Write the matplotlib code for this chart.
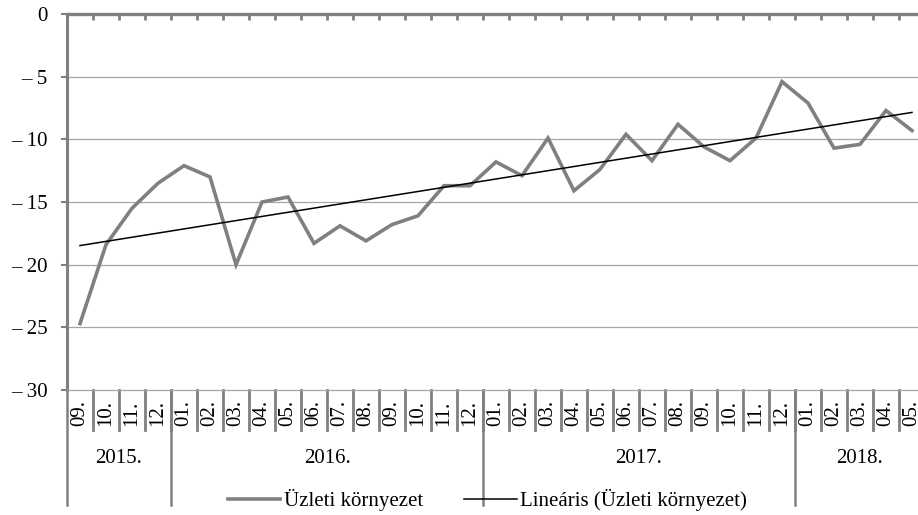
import matplotlib
matplotlib.use("Agg")
import matplotlib.pyplot as plt
import matplotlib.transforms as mtrans
import numpy as np

plt.rcParams["font.family"] = ["Liberation Serif", "DejaVu Serif"]

years = ["2015.", "2016.", "2017.", "2018."]
year_months = [4, 12, 12, 5]
months = ["09.", "10.", "11.", "12.",
          "01.", "02.", "03.", "04.", "05.", "06.", "07.", "08.", "09.", "10.", "11.", "12.",
          "01.", "02.", "03.", "04.", "05.", "06.", "07.", "08.", "09.", "10.", "11.", "12.",
          "01.", "02.", "03.", "04.", "05."]
values = [-24.7, -18.4, -15.5, -13.5,
          -12.1, -13.0, -20.0, -15.0, -14.6, -18.3, -16.9, -18.1, -16.8, -16.1, -13.7, -13.7,
          -11.8, -12.9, -9.9, -14.1, -12.4, -9.6, -11.7, -8.8, -10.6, -11.7, -9.9, -5.4,
          -7.1, -10.7, -10.4, -7.7, -9.3]
yticks = [0, -5, -10, -15, -20, -25, -30]
ytick_labels = ["0", "\u2013 5", "\u2013 10", "\u2013 15", "\u2013 20", "\u2013 25", "\u2013 30"]

GRAY = "#808080"
GRID = "#a6a6a6"
FS = 15

n = len(values)
x = np.arange(n) + 0.5
slope, icpt = np.polyfit(np.arange(n), values, 1)
trend = icpt + slope * np.arange(n)

fig = plt.figure(figsize=(9.18, 5.15), dpi=100)
ax = fig.add_axes([0.073, 0.2427, 1.0076 - 0.073, 0.9728 - 0.2427])

ax.set_ylim(-30, 0)
ax.set_xlim(0, n)
for v in yticks[1:-1]:
    ax.axhline(v, color=GRID, lw=0.9, zorder=1)

line1, = ax.plot(x, values, color=GRAY, lw=2.6, solid_joinstyle="miter", zorder=3,
                 label="Üzleti környezet")
line2, = ax.plot(x, trend, color="black", lw=1.1, zorder=4,
                 label="Lineáris (Üzleti környezet)")

ax.spines["right"].set_visible(False)
ax.spines["left"].set_color(GRAY)
ax.spines["left"].set_linewidth(2.2)
ax.spines["top"].set_color(GRAY)
ax.spines["top"].set_linewidth(2.4)
ax.spines["bottom"].set_color(GRID)
ax.spines["bottom"].set_linewidth(0.9)

ax.set_yticks(yticks)
ax.set_yticklabels(ytick_labels, fontsize=FS)
ax.tick_params(axis="y", length=4, width=1.5, color=GRAY, pad=10)

ax.set_xticks(np.arange(1, n))
ax.set_xticklabels([])
ax.tick_params(axis="x", top=True, bottom=False, direction="in", length=4,
               width=2, color=GRAY)

# category labels below the plot
tr = mtrans.blended_transform_factory(ax.transData, ax.transAxes)
for i, m in enumerate(months):
    ax.text(i + 0.5, -0.062, m, rotation=90, ha="center", va="center",
            fontsize=FS, transform=tr)
for k in range(1, n):
    ax.plot([k, k], [0, -0.106], color=GRAY, lw=2, transform=tr, clip_on=False)

start = 0
for yr, cnt in zip(years, year_months):
    ax.plot([start, start], [0, -0.306], color=GRAY, lw=1.8, transform=tr, clip_on=False)
    ax.text(start + cnt / 2, -0.183, yr, ha="center", va="center",
            fontsize=FS, transform=tr)
    start += cnt

ax.legend(handles=[line1, line2], loc="center", bbox_to_anchor=(0.49, -0.292),
          ncol=2, frameon=False, fontsize=FS, handlelength=2.5,
          handletextpad=0.15, columnspacing=2.0)

fig.savefig("out.png", dpi=100)
